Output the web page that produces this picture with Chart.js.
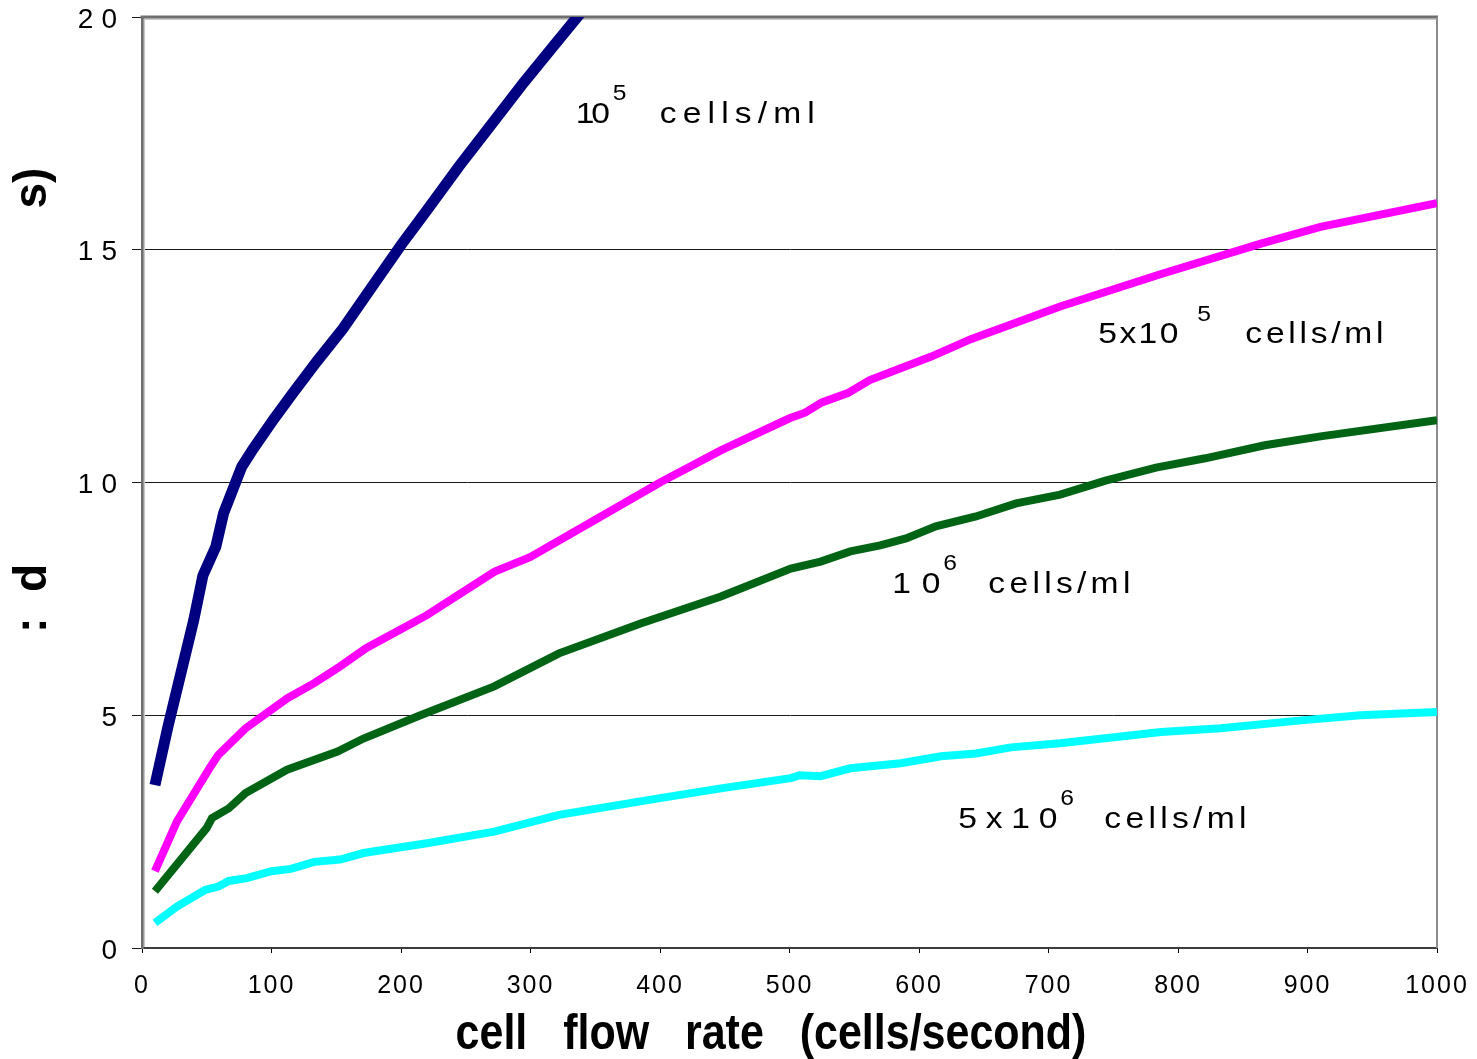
<!DOCTYPE html>
<html>
<head>
<meta charset="utf-8">
<script src="https://cdn.jsdelivr.net/npm/chart.js@4.4.1/dist/chart.umd.min.js"></script>
<style>
  html, body { margin: 0; padding: 0; background: #fff; }
</style>
</head>
<body>
<canvas id="flowChart" width="1477" height="1059"></canvas>
<script>
// flow rate (cells/second) and time read for each cell concentration
const rate1e5 = [10, 20, 30, 40, 47, 57, 63, 77, 86, 102, 116, 135, 155, 175, 200, 220, 245, 270, 295, 320, 345];
const time1e5 = [3.5, 4.75, 5.9, 7.05, 8.0, 8.62, 9.34, 10.34, 10.73, 11.37, 11.9, 12.6, 13.3, 14.1, 15.1, 15.85, 16.8, 17.7, 18.6, 19.45, 20.3];

const rate5e5 = [10, 27, 53, 59, 80, 112, 133, 153, 173, 220, 272, 300, 350, 400, 447, 500, 512, 525, 545, 562, 609, 640, 709, 787, 864, 910, 1000];
const time5e5 = [1.65, 2.72, 3.9, 4.15, 4.72, 5.36, 5.69, 6.05, 6.44, 7.15, 8.08, 8.4, 9.2, 10.0, 10.69, 11.38, 11.5, 11.72, 11.92, 12.2, 12.7, 13.08, 13.78, 14.48, 15.13, 15.49, 16.0];

const rate1e6 = [10, 50, 54, 67, 80, 112, 151, 171, 215, 272, 322, 385, 447, 501, 524, 547, 570, 590, 613, 644, 675, 709, 744, 783, 821, 867, 910, 1000];
const time1e6 = [1.22, 2.58, 2.79, 3.0, 3.33, 3.83, 4.22, 4.5, 5.0, 5.62, 6.33, 6.97, 7.55, 8.15, 8.3, 8.52, 8.65, 8.8, 9.06, 9.27, 9.55, 9.74, 10.04, 10.32, 10.52, 10.8, 10.99, 11.34];

const rate5e6 = [10, 27, 49, 59, 67, 81, 100, 115, 133, 153, 171, 220, 272, 322, 400, 447, 501, 508, 524, 547, 586, 617, 644, 671, 709, 787, 833, 895, 941, 1000];
const time5e6 = [0.54, 0.89, 1.25, 1.32, 1.44, 1.5, 1.65, 1.7, 1.85, 1.9, 2.04, 2.25, 2.5, 2.86, 3.22, 3.43, 3.65, 3.71, 3.69, 3.86, 3.97, 4.12, 4.18, 4.31, 4.4, 4.64, 4.72, 4.89, 5.0, 5.07];

// curve labels: base, superscript, unit
const labelBase = ['10', '5x10', '10', '5x10'];
const labelSup = ['5', '5', '6', '6'];
const labelUnit = 'cells/ml';

const xTitle = 'cell   flow   rate   (cells/second)';

const FONT = '"Liberation Sans", Arial, Helvetica, sans-serif';
Chart.defaults.font.family = FONT;
Chart.defaults.color = '#000';

const zip = (xs, ys) => xs.map((x, i) => ({ x: x, y: ys[i] }));

// label anchor (data coords of base text), then px offsets and widths of each piece
const labelLayout = [
  { x: 335, y: 17.72, baseW: 34, supDx: 37, supDy: -23, unitDx: 84, unitW: 155 },
  { x: 738.5, y: 13.0, baseW: 80, supDx: 99, supDy: -22, unitDx: 147, unitW: 138 },
  { x: 579.4, y: 7.63, baseW: 48, supDx: 51, supDy: -23, unitDx: 96, unitW: 142 },
  { x: 630.4, y: 2.58, baseW: 99, supDx: 102, supDy: -23, unitDx: 146, unitW: 142 }
];
const LABEL_SX = 1.12;

const tickSpacing = { x: '2px', y: '8px' };

// draw text stretched by sx, tracking adjusted so it spans roughly `width` px
function drawFitted(ctx, text, x, y, width, sx) {
  ctx.save();
  ctx.letterSpacing = '0px';
  const w0 = ctx.measureText(text).width;
  const sp = text.length > 1 ? (width / sx - w0) / (text.length - 1) : 0;
  ctx.translate(x, y);
  ctx.scale(sx, 1);
  ctx.letterSpacing = sp.toFixed(2) + 'px';
  ctx.fillText(text, 0, 0);
  ctx.restore();
}

// wider tick label tracking, per axis
const spacedTicks = {
  id: 'spacedTicks',
  beforeDraw(chart) {
    Object.keys(tickSpacing).forEach(id => {
      const s = chart.scales[id];
      if (!s || s._spaced) return;
      const orig = s.drawLabels.bind(s);
      s.drawLabels = area => {
        s.ctx.save();
        s.ctx.letterSpacing = tickSpacing[id];
        orig(area);
        s.ctx.restore();
      };
      s._spaced = true;
    });
  }
};

// grey plot frame on top and right, light inner edge
const plotFrame = {
  id: 'plotFrame',
  beforeDatasetsDraw(chart) {
    const { ctx, chartArea: a } = chart;
    ctx.save();
    ctx.strokeStyle = '#c8c8c8';
    ctx.lineWidth = 1.5;
    ctx.beginPath();
    ctx.moveTo(a.left + 2.3, a.bottom - 1);
    ctx.lineTo(a.left + 2.3, a.top + 2.3);
    ctx.lineTo(a.right - 1, a.top + 2.3);
    ctx.stroke();
    ctx.strokeStyle = '#6e6e6e';
    ctx.lineWidth = 3;
    ctx.beginPath();
    ctx.moveTo(a.left - 1.5, a.top);
    ctx.lineTo(a.right + 1, a.top);
    ctx.stroke();
    ctx.strokeStyle = '#8c8c8c';
    ctx.lineWidth = 2;
    ctx.beginPath();
    ctx.moveTo(a.right, a.top);
    ctx.lineTo(a.right, a.bottom);
    ctx.stroke();
    ctx.restore();
  }
};

// curve labels and axis titles
const textLayer = {
  id: 'textLayer',
  afterDatasetsDraw(chart) {
    const { ctx, scales } = chart;
    ctx.save();
    ctx.fillStyle = '#000';
    ctx.textBaseline = 'alphabetic';
    ctx.textAlign = 'left';
    labelLayout.forEach((l, i) => {
      const px = scales.x.getPixelForValue(l.x);
      const py = scales.y.getPixelForValue(l.y);
      ctx.font = '30px ' + FONT;
      drawFitted(ctx, labelBase[i], px, py, l.baseW, LABEL_SX);
      ctx.font = '22px ' + FONT;
      drawFitted(ctx, labelSup[i], px + l.supDx, py + l.supDy, 0, LABEL_SX);
      ctx.font = '30px ' + FONT;
      drawFitted(ctx, labelUnit, px + l.unitDx, py, l.unitW, LABEL_SX);
    });
    ctx.restore();
  },
  afterDraw(chart) {
    const { ctx } = chart;
    ctx.save();
    ctx.fillStyle = '#000';
    ctx.font = 'bold 50px ' + FONT;
    ctx.textBaseline = 'alphabetic';
    ctx.textAlign = 'center';
    ctx.save();
    ctx.translate(771, 1049);
    ctx.scale(0.86, 1);
    ctx.fillText(xTitle, 0, 0);
    ctx.restore();

    // y title, only partly printed
    ctx.font = 'bold 46px ' + FONT;
    ctx.textAlign = 'left';
    [['s)', 208.5], [':  d', 633]].forEach(([t, y]) => {
      ctx.save();
      ctx.translate(46, y);
      ctx.rotate(-Math.PI / 2);
      ctx.fillText(t, 0, 0);
      ctx.restore();
    });
    ctx.restore();
  }
};

const lineStyle = (color, width) => ({
  borderColor: color,
  backgroundColor: color,
  borderWidth: width,
  borderCapStyle: 'butt',
  borderJoinStyle: 'miter',
  pointRadius: 0,
  pointHoverRadius: 0,
  tension: 0,
  fill: false,
  clip: 0
});

new Chart(document.getElementById('flowChart'), {
  type: 'line',
  data: {
    datasets: [
      { label: '5x10^6 cells/ml', data: zip(rate5e6, time5e6), ...lineStyle('#00ffff', 8) },
      { label: '10^6 cells/ml', data: zip(rate1e6, time1e6), ...lineStyle('#006414', 8) },
      { label: '5x10^5 cells/ml', data: zip(rate5e5, time5e5), ...lineStyle('#ff00ff', 8) },
      { label: '10^5 cells/ml', data: zip(rate1e5, time1e5), ...lineStyle('#000080', 11) }
    ]
  },
  options: {
    responsive: false,
    animation: false,
    events: [],
    layout: { padding: { top: 17, right: 40, left: 0, bottom: 0 } },
    plugins: {
      legend: { display: false },
      tooltip: { enabled: false }
    },
    scales: {
      x: {
        type: 'linear',
        min: 0,
        max: 1000,
        afterFit: s => { s.height = 111; s.paddingLeft = 0; s.paddingRight = 0; },
        ticks: { stepSize: 100, font: { size: 25 }, color: '#000', padding: 18, maxRotation: 0, callback: v => String(v) },
        grid: { drawOnChartArea: false, drawTicks: true, tickLength: 5, color: '#000', lineWidth: 1 },
        border: { display: true, color: '#3c3c3c', width: 2 }
      },
      y: {
        type: 'linear',
        min: 0,
        max: 20,
        afterFit: s => { s.width = 142; s.paddingTop = 0; s.paddingBottom = 0; },
        ticks: { stepSize: 5, font: { size: 28 }, color: '#000', padding: 7, labelOffset: 3, callback: v => String(v) },
        grid: { drawOnChartArea: true, drawTicks: true, tickLength: 10, color: '#1a1a1a', lineWidth: 1 },
        border: { display: true, color: '#6e6e6e', width: 3 }
      }
    }
  },
  plugins: [spacedTicks, plotFrame, textLayer]
});
</script>
</body>
</html>
